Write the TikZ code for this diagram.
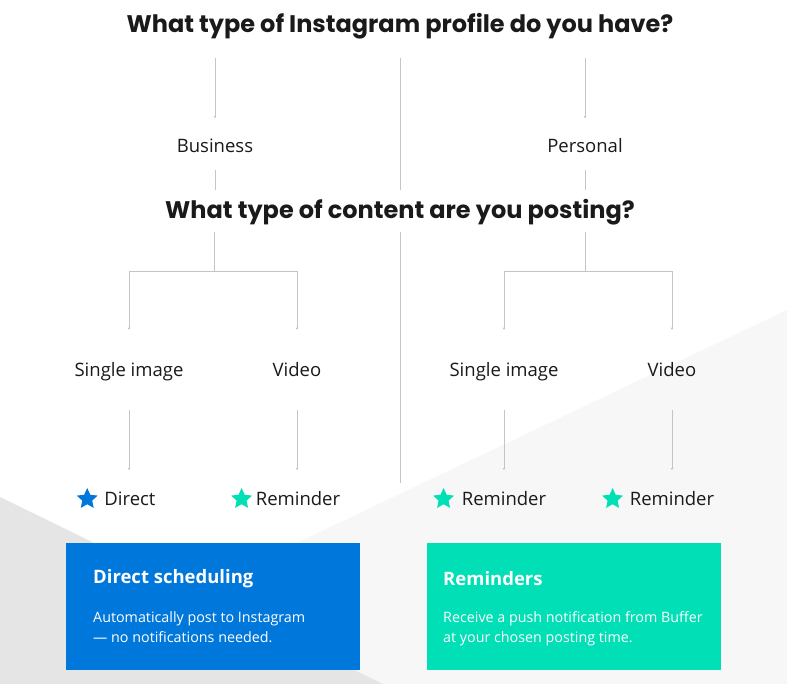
\documentclass[tikz,border=0pt]{standalone}
\usepackage{fontspec}
\setmainfont{Open Sans}
\newfontfamily\headfont{Poppins}
\usepackage{tikz}
\usetikzlibrary{shapes, arrows.meta, positioning, calc}

\definecolor{dirblue}{HTML}{0077DB}
\definecolor{remgreen}{HTML}{00DFB5}
\definecolor{linegray}{HTML}{C4C4C4}
\definecolor{bgdark}{HTML}{E5E5E6}
\definecolor{bglight}{HTML}{F7F7F8}
\definecolor{inkgray}{HTML}{1A1A1A}

\begin{document}
\begin{tikzpicture}[x=1pt, y=-1pt,
        question/.style={inner sep=0pt, text height=17pt, text depth=0pt, font=\headfont\bfseries\fontsize{24}{28}\selectfont, text=inkgray},
        choice/.style={inner sep=0pt, text height=13.2pt, text depth=0pt, font=\fontsize{18.5}{22}\selectfont, text=inkgray},
        starmark/.style={star, star points=5, star point ratio=2.1, inner sep=0pt, minimum size=22pt},
        link/.style={draw=linegray, line width=0.9pt, -{Latex[length=2pt, width=3pt]}},
        plain/.style={draw=linegray, line width=0.9pt},
        infobox/.style={minimum width=294pt, minimum height=127pt, inner sep=0pt},
        boxhead/.style={anchor=west, inner sep=0pt, text=white, font=\bfseries\fontsize{18.5}{22}\selectfont},
        boxbody/.style={anchor=north west, inner sep=0pt, text=white, align=left, font=\fontsize{14.3}{20}\selectfont}]
    % background
    \fill[white] (0,0) rectangle (787,684);
    \fill[bglight] (787,310) -- (787,684) -- (0,684) -- cycle;
    \fill[bgdark] (0,497) -- (383,684) -- (0,684) -- cycle;

    % questions and answers
    \node[question] (q1) at (400,24) {What type of Instagram profile do you have?};
    \node[choice] (bus) at (215,146) {Business};
    \node[choice] (per) at (585,146) {Personal};
    \node[question] (q2) at (400,210) {What type of content are you posting?};
    \node[choice] (img1) at (129,370) {Single image};
    \node[choice] (vid1) at (297,370) {Video};
    \node[choice] (img2) at (504,370) {Single image};
    \node[choice] (vid2) at (672,370) {Video};

    % results
    \node[choice] (res1) at (130,499) {Direct};
    \node[choice] (res2) at (298,499) {Reminder};
    \node[choice] (res3) at (504,499) {Reminder};
    \node[choice] (res4) at (672,499) {Reminder};
    \node[starmark, fill=dirblue] (st1) [left=10pt of res1] {};
    \foreach \r/\d in {2/7pt, 3/11pt, 4/10pt}
        \node[starmark, fill=remgreen] (st\r) [left=\d of res\r] {};

    % forks
    \coordinate (fork1) at (214,271);
    \coordinate (fork2) at (585,271);
    \coordinate (sepend) at (400,483);

    % connectors
    \draw[link, shorten <=25.5pt, shorten >=21pt] (q1.south -| bus) -- (bus);
    \draw[link, shorten <=25.5pt, shorten >=21pt] (q1.south -| per) -- (per);
    \draw[plain, shorten <=17.4pt, shorten >=11.5pt] (bus) -- (q2.north -| bus);
    \draw[plain, shorten <=17.4pt, shorten >=11.5pt] (per) -- (q2.north -| per);
    \draw[plain, shorten <=25.5pt, shorten >=11.5pt] (q1.south) -- (q2.north);
    \draw[plain, shorten <=13.5pt] (q2.south) -- (sepend);
    \foreach \f/\a/\b in {fork1/img1/vid1, fork2/img2/vid2} {
        \draw[plain, shorten <=13.5pt] (q2.south -| \f) -- (\f);
        \draw[link, shorten >=33.4pt] (\f) -| (\a);
        \draw[link, shorten >=33.4pt] (\f) -| (\b);
    }
    \foreach \a/\b in {img1/res1, vid1/res2, img2/res3, vid2/res4}
        \draw[link, shorten <=40pt, shorten >=29pt] (\a.center) -- (\a.center |- \b.center);

    % info boxes
    \node[infobox, fill=dirblue] (dbox) at (213,606.5) {};
    \node[boxhead] (dhead) at (93,579) {Direct scheduling};
    \node[boxbody] (dbody) at (93,611) {Automatically post to Instagram\\— no notifications needed.};
    \node[infobox, fill=remgreen] (rbox) at (574,606.5) {};
    \node[boxhead] (rhead) at (443,579) {Reminders};
    \node[boxbody] (rbody) at (443,611) {Receive a push notification from Buffer\\at your chosen posting time.};
\end{tikzpicture}
\end{document}
